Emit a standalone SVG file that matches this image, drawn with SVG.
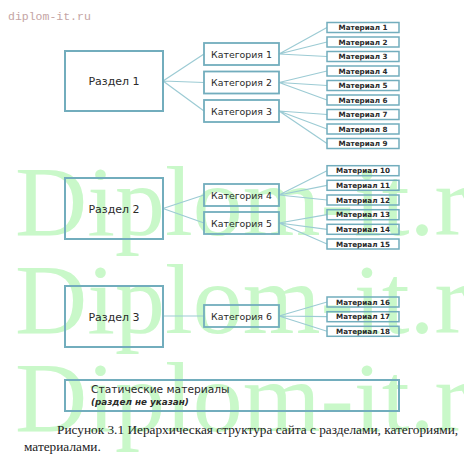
<svg xmlns="http://www.w3.org/2000/svg" width="464" height="460" viewBox="0 0 464 460">
<style>
.wm{font-family:"Liberation Serif",serif;font-size:100px;fill:#c9f8c9}
.sec{fill:none;stroke:#72adbd;stroke-width:2}
.cat{fill:none;stroke:#72adbd;stroke-width:1.8}
.mat{fill:none;stroke:#72adbd;stroke-width:1.5}
.lbl{font-family:"DejaVu Sans",Verdana,sans-serif;fill:#2a2a2a;text-anchor:middle}
.s{font-size:11px}
.c{font-size:9.4px}
.m{font-size:7.2px;font-weight:bold}
.ln{stroke:#9ccbd4;stroke-width:1.2;fill:none}
.cap{font-family:"Liberation Serif",serif;font-size:13.3px;fill:#222}
</style>
<rect width="464" height="460" fill="#ffffff"/>
<g id="watermark">
<text class="wm" x="15" y="235">Diplom-it.ru</text>
<text class="wm" x="15" y="333">Diplom-it.ru</text>
<text class="wm" x="15" y="431">Diplom-it.ru</text>
<text x="8" y="20" font-family="Liberation Mono,monospace" font-size="11.5" fill="#c4a4a4">diplom-it.ru</text>
</g>
<g id="connectors">
<path class="ln" d="M163 81L204 54M163 81L204 82.5M163 81L204 111"/>
<path class="ln" d="M279 54L327 27.5M279 54L327 42M279 54L327 56.5"/>
<path class="ln" d="M279 82.5L327 71M279 82.5L327 85.5M279 82.5L327 100"/>
<path class="ln" d="M279 111L327 114.5M279 111L327 129M279 111L327 143.5"/>
<path class="ln" d="M163 208.5L204 195M163 208.5L204 223"/>
<path class="ln" d="M279 195L327 170.7M279 195L327 185.3M279 195L327 200"/>
<path class="ln" d="M279 223L327 214.7M279 223L327 229.3M279 223L327 244"/>
<path class="ln" d="M163 316L204 316"/>
<path class="ln" d="M279 316L327 302M279 316L327 316.7M279 316L327 331.3"/>
</g>
<g id="razdel1"><rect class="sec" x="65" y="51" width="98" height="60"/><text class="lbl s" x="114" y="85">Раздел 1</text></g>
<g id="razdel2"><rect class="sec" x="65" y="178" width="98" height="61"/><text class="lbl s" x="114" y="212.5">Раздел 2</text></g>
<g id="razdel3"><rect class="sec" x="65" y="286" width="98" height="61"/><text class="lbl s" x="114" y="320.5">Раздел 3</text></g>
<g id="kat1"><rect class="cat" x="204" y="43" width="75" height="22"/><text class="lbl c" x="241.5" y="57.5">Категория 1</text></g>
<g id="kat2"><rect class="cat" x="204" y="71.5" width="75" height="22"/><text class="lbl c" x="241.5" y="86">Категория 2</text></g>
<g id="kat3"><rect class="cat" x="204" y="100" width="75" height="22"/><text class="lbl c" x="241.5" y="114.5">Категория 3</text></g>
<g id="kat4"><rect class="cat" x="204" y="184" width="75" height="22"/><text class="lbl c" x="241.5" y="198.5">Категория 4</text></g>
<g id="kat5"><rect class="cat" x="204" y="212" width="75" height="22"/><text class="lbl c" x="241.5" y="226.5">Категория 5</text></g>
<g id="kat6"><rect class="cat" x="204" y="305" width="75" height="22"/><text class="lbl c" x="241.5" y="319.5">Категория 6</text></g>
<g id="mat1"><rect class="mat" x="327" y="22.5" width="72" height="10"/><text class="lbl m" x="363" y="30.2">Материал 1</text></g>
<g id="mat2"><rect class="mat" x="327" y="37" width="72" height="10"/><text class="lbl m" x="363" y="44.7">Материал 2</text></g>
<g id="mat3"><rect class="mat" x="327" y="51.5" width="72" height="10"/><text class="lbl m" x="363" y="59.2">Материал 3</text></g>
<g id="mat4"><rect class="mat" x="327" y="66" width="72" height="10"/><text class="lbl m" x="363" y="73.7">Материал 4</text></g>
<g id="mat5"><rect class="mat" x="327" y="80.5" width="72" height="10"/><text class="lbl m" x="363" y="88.2">Материал 5</text></g>
<g id="mat6"><rect class="mat" x="327" y="95" width="72" height="10"/><text class="lbl m" x="363" y="102.7">Материал 6</text></g>
<g id="mat7"><rect class="mat" x="327" y="109.5" width="72" height="10"/><text class="lbl m" x="363" y="117.2">Материал 7</text></g>
<g id="mat8"><rect class="mat" x="327" y="124" width="72" height="10"/><text class="lbl m" x="363" y="131.7">Материал 8</text></g>
<g id="mat9"><rect class="mat" x="327" y="138.5" width="72" height="10"/><text class="lbl m" x="363" y="146.2">Материал 9</text></g>
<g id="mat10"><rect class="mat" x="327" y="165.7" width="72" height="10"/><text class="lbl m" x="363" y="173.4">Материал 10</text></g>
<g id="mat11"><rect class="mat" x="327" y="180.3" width="72" height="10"/><text class="lbl m" x="363" y="188">Материал 11</text></g>
<g id="mat12"><rect class="mat" x="327" y="195" width="72" height="10"/><text class="lbl m" x="363" y="202.7">Материал 12</text></g>
<g id="mat13"><rect class="mat" x="327" y="209.7" width="72" height="10"/><text class="lbl m" x="363" y="217.4">Материал 13</text></g>
<g id="mat14"><rect class="mat" x="327" y="224.3" width="72" height="10"/><text class="lbl m" x="363" y="232">Материал 14</text></g>
<g id="mat15"><rect class="mat" x="327" y="239" width="72" height="10"/><text class="lbl m" x="363" y="246.7">Материал 15</text></g>
<g id="mat16"><rect class="mat" x="327" y="297" width="72" height="10"/><text class="lbl m" x="363" y="304.7">Материал 16</text></g>
<g id="mat17"><rect class="mat" x="327" y="311.7" width="72" height="10"/><text class="lbl m" x="363" y="319.4">Материал 17</text></g>
<g id="mat18"><rect class="mat" x="327" y="326.3" width="72" height="10"/><text class="lbl m" x="363" y="334">Материал 18</text></g>
<g id="static"><rect class="sec" x="65" y="380" width="334" height="31"/>
<text x="91" y="392.5" font-family="DejaVu Sans,Verdana,sans-serif" font-size="10.7" fill="#2a2a2a">Статические материалы</text>
<text x="91" y="405" font-family="DejaVu Sans,Verdana,sans-serif" font-size="8.8" font-style="italic" font-weight="bold" fill="#2a2a2a">(раздел не указан)</text></g>
<g id="caption">
<text class="cap" x="57" y="434">Рисунок 3.1 Иерархическая структура сайта с разделами, категориями,</text>
<text class="cap" x="24" y="451">материалами.</text>
</g>
</svg>
